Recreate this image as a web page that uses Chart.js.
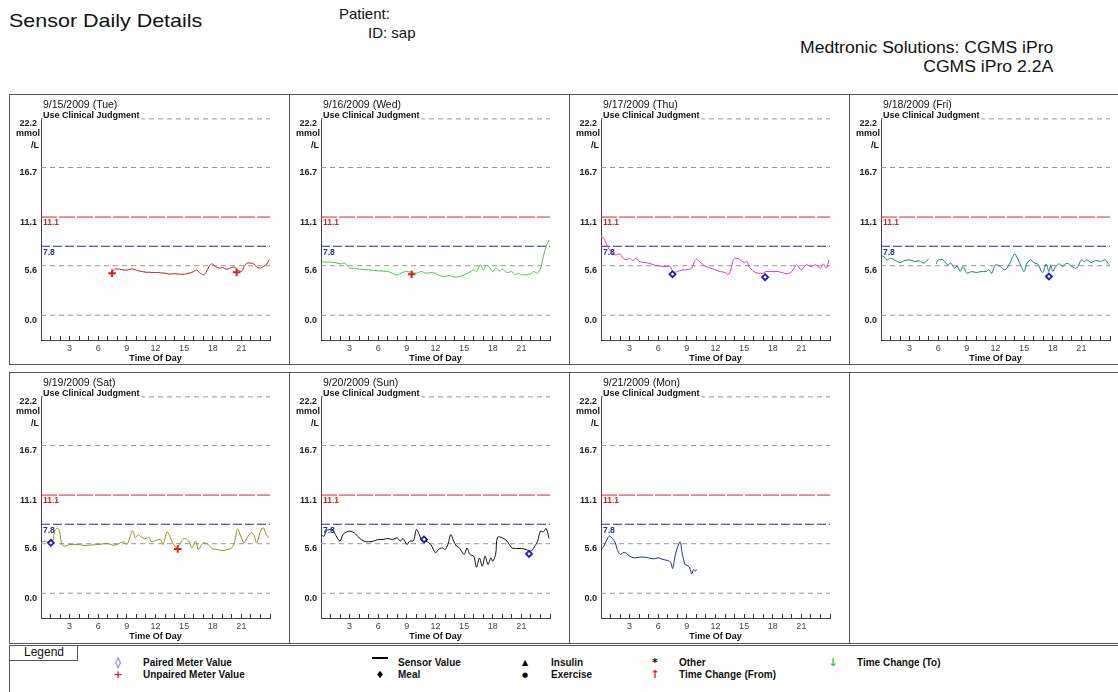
<!DOCTYPE html>
<html>
<head>
<meta charset="utf-8">
<script src="https://cdn.jsdelivr.net/npm/chart.js"></script>
<style>
    body { margin: 0; width: 1118px; height: 692px; position: relative; overflow: hidden; background: #fff;
           font-family: "Liberation Sans", Arial, sans-serif; }
    .t { position: absolute; white-space: nowrap; color: #111; }
    .box { position: absolute; border: 1px solid #555; box-sizing: border-box; }
    .vl { position: absolute; width: 1px; background: #555; }
    canvas { position: absolute; }
</style>
</head>
<body>

<script>
// day titles + trace colours
const dayTitles = ['9/15/2009 (Tue)', '9/16/2009 (Wed)', '9/17/2009 (Thu)', '9/18/2009 (Fri)',
    '9/19/2009 (Sat)', '9/20/2009 (Sun)', '9/21/2009 (Mon)'];
const dayColors = ['rgb(180,30,30)', 'rgb(60,205,60)', 'rgb(205,60,205)', 'rgb(20,130,120)',
    'rgb(145,145,20)', 'rgb(15,15,15)', 'rgb(30,40,160)'];

// y axis ticks and reference lines (mmol/L)
const yTicks = [0, 5.6, 11.1, 16.7, 22.2];
const grayLevels = [0, 5.6, 16.7, 22.2];
const redLimit = 11.1;
const blueLimit = 7.8;

// sensor values [hour, mmol/L]
const sensor0915 = [[7.5,5.0],[7.7,5.2],[8,5.25],[8.5,5.15],[9,5.1],[9.5,5.25],[10,5.1],[10.5,4.95],[11,4.87],
    [11.5,4.85],[12,4.83],[12.5,4.8],[13,4.75],[13.5,4.64],[14,4.7],[14.5,4.64],[15,4.64],[15.5,4.75],[16,4.94],
    [16.3,5.13],[16.6,4.83],[17,4.57],[17.3,4.83],[17.6,5.51],[17.9,5.81],[18.3,5.51],[18.7,5.32],[19,5.4],
    [19.5,5.21],[20,5.4],[20.3,5.43],[20.6,5.13],[21,4.94],[21.3,5.51],[21.6,5.89],[22,5.89],[22.3,5.81],
    [22.6,5.45],[23,5.32],[23.3,5.51],[23.6,5.70],[23.9,6.26]];
const sensor0916 = [[0,6.08],[0.5,6.0],[1,6.0],[1.5,5.96],[2,5.81],[2.5,5.89],[2.8,5.51],[3,5.32],[3.5,5.32],
    [4,5.21],[5,5.13],[6,5.02],[7,4.94],[7.5,4.75],[8,4.53],[8.5,4.83],[9,4.94],[9.5,4.83],[10,4.75],[10.5,4.94],
    [11,4.75],[11.5,4.83],[12,4.75],[12.5,4.45],[13,4.38],[13.5,4.49],[14,4.30],[14.5,4.38],[15,4.57],[15.5,4.83],
    [16,5.13],[16.3,4.94],[16.7,5.70],[17,5.13],[17.3,5.62],[17.6,5.51],[18,4.94],[18.3,5.32],[18.7,5.02],
    [19,5.21],[19.5,4.83],[20,4.94],[20.3,4.57],[20.7,4.75],[21,4.57],[21.5,4.57],[22,4.68],[22.3,4.94],
    [22.6,4.75],[23,5.21],[23.3,6.64],[23.6,7.77],[23.9,8.53]];
const sensor0917 = [[0,8.91],[0.3,8.72],[0.6,7.96],[1,7.21],[1.3,6.94],[1.5,6.83],[2,6.94],[2.3,6.45],[2.7,6.26],
    [3,6.45],[3.3,6.19],[3.7,6.45],[4,6.08],[4.5,5.96],[5,5.89],[5.5,5.70],[6,5.58],[7,5.51],[7.2,5.58],[7.6,4.87],
    [8,4.94],[8.5,5.13],[9,5.13],[9.5,5.32],[9.8,6.08],[10,6.34],[10.3,6.08],[10.7,5.70],[11,5.51],[11.5,5.32],
    [12,5.13],[12.5,4.94],[13,4.83],[13.3,4.57],[13.6,5.13],[13.8,6.08],[14,6.45],[14.5,6.34],[15,5.96],
    [15.3,6.08],[15.5,5.51],[16,4.94],[16.5,4.75],[17,4.75],[17.3,4.94],[18,4.94],[18.5,4.94],[19,4.83],
    [19.5,4.68],[20,4.94],[20.5,5.70],[21,5.13],[21.5,5.70],[22,5.51],[22.5,5.70],[23,5.32],[23.3,5.81],
    [23.6,5.32],[23.9,6.26]];
const sensor0918 = [[0,6.72],[0.3,6.64],[0.6,6.26],[1,6.45],[1.5,6.19],[2,5.96],[2.5,6.19],[3,6.26],[3.5,6.08],
    [4,6.15],[4.5,5.89],[4.8,6.19],[5.0,6.34],[5.4,null],[5.8,5.81],[6,6.26],[6.5,6.26],[7,5.70],[7.3,5.89],
    [7.7,5.32],[8,5.58],[8.3,4.94],[8.6,5.51],[9,4.75],[9.5,4.94],[10,4.83],[10.5,4.94],[11,4.94],[11.3,5.13],
    [11.6,4.75],[12,5.70],[12.5,5.51],[13,5.13],[13.5,5.89],[14,6.94],[14.3,6.45],[14.7,5.51],[15,4.94],
    [15.3,5.89],[15.7,6.26],[16,5.96],[16.5,5.70],[16.8,4.94],[17,4.87],[17.3,5.81],[17.6,4.94],[17.8,5.70],
    [18,4.94],[18.3,5.51],[18.7,5.81],[19,5.51],[19.5,5.89],[20,5.51],[20.5,5.32],[21,6.26],[21.3,6.08],
    [21.6,6.26],[22,5.96],[22.5,6.19],[23,6.08],[23.5,6.26],[23.9,5.70]];
const sensor0919 = [[0,5.81],[0.5,5.89],[0.8,5.70],[1.2,5.89],[1.5,7.21],[1.8,7.32],[2,6.64],[2.2,5.51],[2.5,5.32],
    [3,5.51],[4,5.51],[4.5,5.40],[5,5.43],[6,5.51],[7,5.62],[7.5,5.43],[8,5.51],[8.3,5.70],[8.7,5.81],[9,5.51],
    [9.3,6.26],[9.6,7.09],[9.9,6.26],[10.2,6.64],[10.5,6.34],[11,6.19],[11.3,6.34],[11.6,5.81],[12,5.96],
    [12.5,6.08],[12.8,5.51],[13.2,6.94],[13.5,6.45],[13.8,5.70],[14.2,5.13],[14.5,5.51],[15,6.19],[15.5,5.89],
    [15.8,5.13],[16.2,5.89],[16.5,4.94],[17,5.70],[17.5,5.51],[18,5.02],[18.5,4.94],[19,4.83],[19.5,4.94],
    [20,5.13],[20.3,5.89],[20.6,7.28],[21,6.26],[21.3,5.70],[21.6,6.26],[22,6.83],[22.3,6.64],[22.6,5.70],
    [23,7.02],[23.3,7.40],[23.6,6.64],[23.9,6.26]];
const sensor0920 = [[0,6.64],[0.3,6.45],[0.6,7.09],[1,7.21],[1.3,7.02],[1.7,6.26],[2,5.89],[2.3,6.64],[2.7,6.94],
    [3,7.02],[3.5,6.83],[4,6.26],[4.5,5.89],[5,5.81],[5.5,5.89],[6,6.08],[6.5,6.08],[7,6.19],[7.5,6.08],[8,6.26],
    [8.3,5.89],[8.6,6.19],[9,5.51],[9.3,5.89],[9.7,5.96],[10,7.21],[10.3,6.64],[10.6,5.89],[11,5.89],[11.5,5.51],
    [12,4.57],[12.3,4.94],[12.7,5.13],[13,4.94],[13.3,5.51],[13.6,6.64],[13.9,5.89],[14.2,5.32],[14.5,5.13],
    [15,4.38],[15.3,5.13],[15.6,4.38],[16,4.19],[16.3,2.94],[16.6,4.0],[16.9,3.06],[17.2,4.19],[17.5,3.25],
    [17.8,4.0],[18,3.62],[18.3,4.38],[18.5,6.34],[19,6.26],[19.5,5.89],[20,5.13],[20.5,5.06],[21,5.06],
    [21.5,4.94],[22,4.75],[22.3,5.13],[22.7,5.89],[23,7.02],[23.3,6.94],[23.6,7.32],[23.9,6.19]];
const sensor0921 = [[0,4.94],[0.3,5.32],[0.7,6.26],[0.9,6.45],[1.2,6.19],[1.5,5.70],[1.7,4.94],[2,4.38],[2.3,4.57],
    [2.6,4.57],[3,4.19],[3.5,4.0],[4,4.08],[4.5,4.08],[5,4.0],[5.5,3.89],[6,4.0],[6.5,3.81],[7,3.70],[7.3,3.51],
    [7.5,2.79],[7.8,4.38],[8,5.13],[8.3,5.81],[8.5,4.57],[8.8,3.25],[9,3.17],[9.3,2.87],[9.5,2.19],[9.7,2.68],
    [9.9,2.49],[10.0,2.68]];
const sensorByDay = [sensor0915, sensor0916, sensor0917, sensor0918, sensor0919, sensor0920, sensor0921];

// meter readings [hour, mmol/L]
const pairedMeter = [[], [], [[7.5,4.64],[17.2,4.30]], [[17.6,4.38]], [[1.03,5.70]], [[10.8,6.08],[21.8,4.45]], []];
const unpairedMeter = [[[7.45,4.75],[20.5,4.85]], [[9.5,4.64]], [], [], [[14.33,5.0]], [], []];

// page layout
const axisXs = [41, 321, 601, 881];
const rowTops = [94, 372];
const FONT = '"Liberation Sans", Arial, sans-serif';
Chart.defaults.font.family = FONT;

function el(tag, cls, css, txt) {
    var e = document.createElement(tag);
    if (cls) e.className = cls;
    e.style.cssText = css;
    if (txt) e.textContent = txt;
    document.body.appendChild(e);
    return e;
}

// header
el('div', 't', 'left:9px;top:10px;font-size:19px;transform:scaleX(1.13);transform-origin:left;', 'Sensor Daily Details');
el('div', 't', 'left:339px;top:5px;font-size:15px;', 'Patient:');
el('div', 't', 'left:368px;top:24px;font-size:15px;', 'ID: sap');
el('div', 't', 'right:65px;top:39px;font-size:16px;transform:scaleX(1.1);transform-origin:right;', 'Medtronic Solutions: CGMS iPro');
el('div', 't', 'right:65px;top:58px;font-size:16px;transform:scaleX(1.1);transform-origin:right;', 'CGMS iPro 2.2A');

// panel frames
el('div', 'box', 'left:9px;top:94px;width:1112px;height:271px;');
el('div', 'box', 'left:9px;top:372px;width:1112px;height:272px;');
[289, 569, 849].forEach(function (x) {
    el('div', 'vl', 'left:' + x + 'px;top:94px;height:271px;');
    el('div', 'vl', 'left:' + x + 'px;top:372px;height:272px;');
});

function panelText(title) {
    return {
        id: 'panelText',
        afterDraw: function (chart) {
            var ctx = chart.ctx;
            var y = chart.scales.y;
            var left = chart.chartArea.left;
            ctx.save();
            ctx.textBaseline = 'middle';
            ctx.fillStyle = '#111';
            ctx.font = '10.5px ' + FONT;
            ctx.fillText(title, left + 2, 10);

            ctx.font = 'bold 9px ' + FONT;
            var note = 'Use Clinical Judgment';
            var w = ctx.measureText(note).width;
            ctx.fillStyle = '#fff';
            ctx.fillRect(left + 2, 15, w + 2, 11);
            ctx.fillStyle = '#111';
            ctx.fillText(note, left + 2, 20.5);

            ctx.textAlign = 'right';
            var top = y.getPixelForValue(22.2);
            ctx.fillText('mmol', left - 1, top + 15);
            ctx.fillText('/L', left - 2, top + 27);

            ctx.textAlign = 'left';
            ctx.font = 'bold 8.5px ' + FONT;
            ctx.fillStyle = 'rgb(210,30,30)';
            ctx.fillText(redLimit.toFixed(1), left + 2, y.getPixelForValue(redLimit) + 6);
            ctx.fillStyle = 'rgb(40,40,170)';
            ctx.fillText(blueLimit.toFixed(1), left + 2, y.getPixelForValue(blueLimit) + 6);
            ctx.restore();
        }
    };
}

function hLine(v, color, dash) {
    return {
        data: [{x: 0, y: v}, {x: 24, y: v}],
        borderColor: color, borderWidth: 1, borderDash: dash,
        pointRadius: 0, order: 3
    };
}

function toPoints(arr) {
    return arr.map(function (p) { return {x: p[0], y: p[1]}; });
}

function makePanel(i) {
    var ax = axisXs[i % 4];
    var top = rowTops[Math.floor(i / 4)];
    var canvas = document.createElement('canvas');
    canvas.width = 267;
    canvas.height = 269;
    canvas.style.left = (ax - 31) + 'px';
    canvas.style.top = (top + 1) + 'px';
    canvas.style.width = '267px';
    canvas.style.height = '269px';
    document.body.appendChild(canvas);

    var datasets = grayLevels.map(function (v) { return hLine(v, 'rgb(150,150,150)', [5, 4]); });
    datasets.push(hLine(redLimit, 'rgb(210,40,40)', [16, 2]));
    datasets.push(hLine(blueLimit, 'rgb(40,40,150)', [9, 3]));
    datasets.push({
        data: toPoints(sensorByDay[i]),
        borderColor: dayColors[i], borderWidth: 1, pointRadius: 0,
        tension: 0.3, spanGaps: false, order: 2
    });
    datasets.push({
        data: toPoints(pairedMeter[i]), showLine: false,
        pointStyle: 'rectRot', pointRadius: 3, pointBorderWidth: 1.8,
        pointBorderColor: 'rgb(30,30,170)', pointBackgroundColor: '#fff', order: 1
    });
    datasets.push({
        data: toPoints(unpairedMeter[i]), showLine: false,
        pointStyle: 'cross', pointRadius: 3.8, pointBorderWidth: 2,
        pointBorderColor: 'rgb(225,30,30)', order: 1
    });

    new Chart(canvas, {
        type: 'line',
        data: { datasets: datasets },
        options: {
            responsive: false,
            animation: false,
            layout: { padding: { top: 23, right: 4, left: 0, bottom: 0 } },
            plugins: { legend: { display: false }, tooltip: { enabled: false } },
            scales: {
                x: {
                    type: 'linear', min: 0, max: 24,
                    afterFit: function (s) { s.height = 24; },
                    ticks: {
                        stepSize: 1, autoSkip: false, maxRotation: 0, padding: 7,
                        font: { size: 9 }, color: '#444',
                        callback: function (v) { return (v % 3 === 0 && v > 0 && v < 24) ? String(v) : ''; }
                    },
                    grid: { drawOnChartArea: false, tickLength: -4, color: '#333' },
                    border: { color: '#444' },
                    title: { display: true, text: 'Time Of Day', font: { size: 9, weight: 'bold' }, padding: 0, color: '#111' }
                },
                y: {
                    min: -2.8, max: 22.3,
                    afterFit: function (s) { s.width = 31; },
                    afterBuildTicks: function (s) { s.ticks = yTicks.map(function (v) { return {value: v}; }); },
                    ticks: {
                        padding: 4, labelOffset: 5, color: '#222',
                        font: { size: 9, weight: 'bold' },
                        callback: function (v) { return v.toFixed(1); }
                    },
                    grid: { drawOnChartArea: false, drawTicks: false },
                    border: { display: true, color: '#444' }
                }
            }
        },
        plugins: [panelText(dayTitles[i])]
    });
}

for (var i = 0; i < dayTitles.length; i++) {
    makePanel(i);
}

// legend
el('div', 'box', 'left:9px;top:645px;width:1112px;height:60px;');
el('div', 'box', 'left:9px;top:645px;width:69px;height:16px;');
el('div', 't', 'left:24px;top:645px;font-size:12px;line-height:14px;', 'Legend');

// [symbol, colour, symbol x, y, label x, label, symbol size]
var legendItems = [
    ['\u25CA', 'rgb(30,30,170)', 118, 663, 143, 'Paired Meter Value', 11],
    ['+', 'rgb(225,30,30)', 118, 675, 143, 'Unpaired Meter Value', 11],
    ['', '#000', 380, 663, 398, 'Sensor Value', 10],
    ['\u2666', '#000', 380, 675, 398, 'Meal', 10],
    ['\u25B2', '#000', 525, 663, 551, 'Insulin', 8],
    ['\u25CF', '#000', 525, 675, 551, 'Exercise', 7],
    ['*', '#000', 655, 663, 679, 'Other', 11],
    ['\u2191', 'rgb(230,30,30)', 655, 675, 679, 'Time Change (From)', 11],
    ['\u2193', 'rgb(40,200,40)', 833, 663, 857, 'Time Change (To)', 11]
];
legendItems.forEach(function (it) {
    if (it[0]) {
        el('div', 't', 'left:' + (it[2] - 10) + 'px;width:20px;text-align:center;top:' + (it[3] - 7) +
            'px;font-size:' + it[6] + 'px;line-height:14px;font-weight:bold;font-family:"DejaVu Sans";color:' + it[1] + ';', it[0]);
    }
    el('div', 't', 'left:' + it[4] + 'px;top:' + (it[3] - 6) + 'px;font-size:10px;line-height:12px;font-weight:bold;', it[5]);
});
el('div', '', 'position:absolute;left:372px;top:657px;width:16px;height:2px;background:#000;');
</script>
</body>
</html>
